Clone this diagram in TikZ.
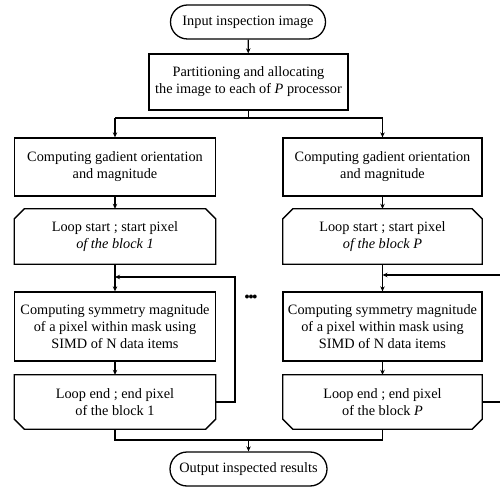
\documentclass[tikz,border=0pt]{standalone}
\usepackage{fontspec}
\setmainfont{Liberation Serif}
\usetikzlibrary{arrows.meta,shapes.misc,positioning}
\begin{document}
\begin{tikzpicture}[x=1pt,y=1pt,
  every node/.style={font=\fontsize{14.3}{17}\selectfont, align=center, inner sep=0pt},
  term/.style={draw, rounded rectangle, minimum width=155pt, minimum height=34pt, line width=1.3pt},
  box/.style={draw, rectangle, minimum width=201pt, minimum height=#1, line width=1.3pt},
  plain/.style={rectangle, minimum width=201pt, minimum height=#1},
  outl/.style={line width=1.3pt},
  conn/.style={line width=1.3pt},
  arr/.style={conn, -{Stealth[length=5pt,width=4.5pt]}}
]
\useasboundingbox (0,0) rectangle (500,490);
% top
\node[term] (in) at (248,468) {Input inspection image};
\node[box=56pt, minimum width=199pt] (part) at (248.5,408) {Partitioning and allocating\\the image to each of \textit{P} processor};
% left column
\node[box=58pt] (gL) at (115,323) {Computing gadient orientation\\and magnitude};
\node[plain=55pt] (lsL) at (115,253.5) {Loop start ; start pixel\\\textit{of the block 1}};
\node[box=69pt] (sL) at (115,163.5) {Computing symmetry magnitude\\of a pixel within mask using\\SIMD of N data items};
\node[plain=54pt] (leL) at (115,88) {Loop end ; end pixel\\of the block 1};
% right column
\node[box=58pt, minimum width=199pt] (gR) at (382.5,323) {Computing gadient orientation\\and magnitude};
\node[plain=55pt, minimum width=199pt] (lsR) at (382.5,253.5) {Loop start ; start pixel\\\textit{of the block P}};
\node[box=69pt, minimum width=199pt] (sR) at (382.5,163.5) {Computing symmetry magnitude\\of a pixel within mask using\\SIMD of N data items};
\node[plain=54pt, minimum width=199pt] (leR) at (382.5,88) {Loop end ; end pixel\\of the block \textit{P}};
% dots
\node[font=\fontsize{10}{10}\selectfont] (dots) at (251,193) {$\bullet\!\!\bullet\!\!\bullet$};
% bottom
\node[term, minimum width=157pt] (out) at (248.5,21) {Output inspected results};
% chamfered outlines
\foreach \n in {lsL,lsR}{
  \draw[outl] (\n.south west) -- ([yshift=-10pt]\n.north west) -- ([xshift=10pt]\n.north west)
    -- ([xshift=-10pt]\n.north east) -- ([yshift=-10pt]\n.north east) -- (\n.south east) -- cycle;
}
\foreach \n in {leL,leR}{
  \draw[outl] (\n.north west) -- ([yshift=10pt]\n.south west) -- ([xshift=10pt]\n.south west)
    -- ([xshift=-10pt]\n.south east) -- ([yshift=10pt]\n.south east) -- (\n.north east) -- cycle;
}
% coordinates
\coordinate (split) at (248.5,372);
\coordinate (splitL) at (115,372);
\coordinate (splitR) at (382.5,372);
\coordinate (joinL) at (115,213);
\coordinate (joinR) at (382.5,215);
\coordinate (fbL1) at (235,88);
\coordinate (fbL2) at (235,213);
\coordinate (fbR1) at (500,88);
\coordinate (fbR2) at (500,215);
\coordinate (mergeL) at (115,50);
\coordinate (mergeR) at (382.5,50);
\coordinate (merge) at (248.5,50);
% connectors
\draw[arr] (in) -- (part);
\draw[conn] (part.south) -- (split);
\draw[conn] (splitL) -- (splitR);
\draw[arr] (splitL) -- (gL.north);
\draw[arr] (splitR) -- (gR.north);
\draw[arr] (gL) -- (lsL);
\draw[arr] (gR) -- (lsR);
\draw[arr] (lsL) -- (sL);
\draw[arr] (lsR) -- (sR);
\draw[arr] (sL) -- (leL);
\draw[arr] (sR) -- (leR);
\draw[arr] (leL.east) -- (fbL1) -- (fbL2) -- (joinL);
\draw[conn] (leR.east) -- (fbR1);
\draw[arr] (fbR2) -- (joinR);
\draw[conn] (leL.south) -- (mergeL) -- (mergeR) -- (leR.south);
\draw[arr] (merge) -- (out.north);
\end{tikzpicture}
\end{document}
